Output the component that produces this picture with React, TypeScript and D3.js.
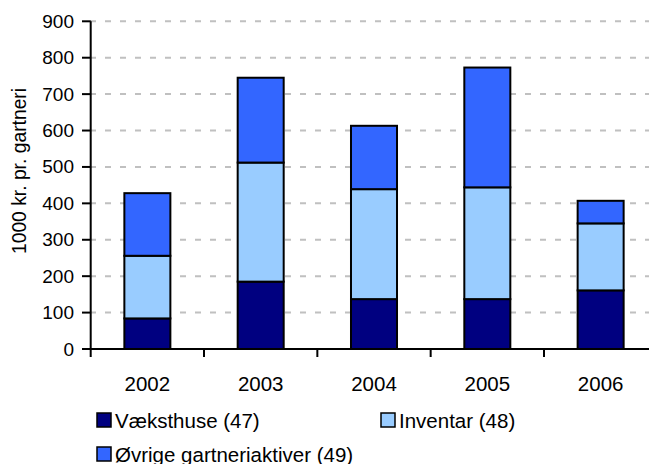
import React from "react";
import * as d3 from "d3";

const years = ["2002", "2003", "2004", "2005", "2006"];
const vaeksthuse = [84, 185, 137, 137, 161];
const inventar = [172, 327, 302, 307, 184];
const oevrige = [172, 233, 174, 329, 62];
const seriesNames = ["Væksthuse (47)", "Inventar (48)", "Øvrige gartneriaktiver (49)"];
const seriesColors = ["#000080", "#99CCFF", "#3366FF"];
const yTicks = [0, 100, 200, 300, 400, 500, 600, 700, 800, 900];

const W = 649;
const H = 464;
const FONT = "'Liberation Sans', Arial, sans-serif";

export default function App() {
  const x = d3.scaleBand<string>().domain(years).range([90.7, 657.3]).padding(0);
  const y = d3.scaleLinear().domain([0, 900]).range([349, 21.3]);
  const barW = x.bandwidth() * 0.406;

  const rows = years.map((yr, i) => ({
    year: yr,
    v0: vaeksthuse[i],
    v1: inventar[i],
    v2: oevrige[i],
  }));
  const stack = d3.stack<any>().keys(["v0", "v1", "v2"]);
  const stacked = stack(rows);

  const ticksX = [...years.map((d) => x(d) as number), 657.3];

  return (
    <svg
      width={W}
      height={H}
      style={{ position: "absolute", left: 0, top: 0, background: "#fff" }}
      fontFamily={FONT}
    >
      <rect x={0} y={0} width={W} height={H} fill="#fff" />
      {/* gridlines */}
      {yTicks.slice(1).map((t) => (
        <line
          key={t}
          x1={90}
          x2={W}
          y1={y(t)}
          y2={y(t)}
          stroke="#C0C0C0"
          strokeWidth={2}
          strokeDasharray="6,9"
        />
      ))}
      {/* bars */}
      {stacked.map((s, si) =>
        s.map((d, i) => (
          <rect
            key={si + "-" + i}
            x={(x(years[i]) as number) + (x.bandwidth() - barW) / 2}
            y={y(d[1])}
            width={barW}
            height={y(d[0]) - y(d[1])}
            fill={seriesColors[si]}
            stroke="#000"
            strokeWidth={2}
          />
        ))
      )}
      {/* y axis */}
      <line x1={90.7} x2={90.7} y1={y(900)} y2={y(0)} stroke="#000" strokeWidth={2} />
      {yTicks.map((t) => (
        <g key={t}>
          <line x1={82} x2={90.7} y1={y(t)} y2={y(t)} stroke="#000" strokeWidth={2} />
          <text
            x={74}
            y={y(t)}
            textAnchor="end"
            dominantBaseline="central"
            fontSize={19}
            fill="#000"
          >
            {t}
          </text>
        </g>
      ))}
      {/* x axis */}
      <line x1={90.7} x2={W} y1={y(0)} y2={y(0)} stroke="#000" strokeWidth={2} />
      {ticksX.map((tx, i) => (
        <line key={i} x1={tx} x2={tx} y1={y(0)} y2={y(0) + 8} stroke="#000" strokeWidth={2} />
      ))}
      {years.map((yr) => (
        <text
          key={yr}
          x={(x(yr) as number) + x.bandwidth() / 2}
          y={383}
          textAnchor="middle"
          dominantBaseline="central"
          fontSize={20.5}
          fill="#000"
        >
          {yr}
        </text>
      ))}
      {/* y title */}
      <text
        transform={`translate(19,171) rotate(-90)`}
        textAnchor="middle"
        dominantBaseline="central"
        fontSize={19.3}
        fill="#000"
      >
        1000 kr. pr. gartneri
      </text>
      {/* legend */}
      {seriesNames.map((name, i) => {
        const lx = i === 1 ? 381 : 97;
        const ly = i === 2 ? 454 : 420;
        return (
          <g key={name}>
            <rect
              x={lx}
              y={ly - 7}
              width={14}
              height={14}
              fill={seriesColors[i]}
              stroke="#000"
              strokeWidth={1.5}
            />
            <text
              x={lx + 18}
              y={ly}
              dominantBaseline="central"
              fontSize={20.5}
              fill="#000"
            >
              {name}
            </text>
          </g>
        );
      })}
    </svg>
  );
}
